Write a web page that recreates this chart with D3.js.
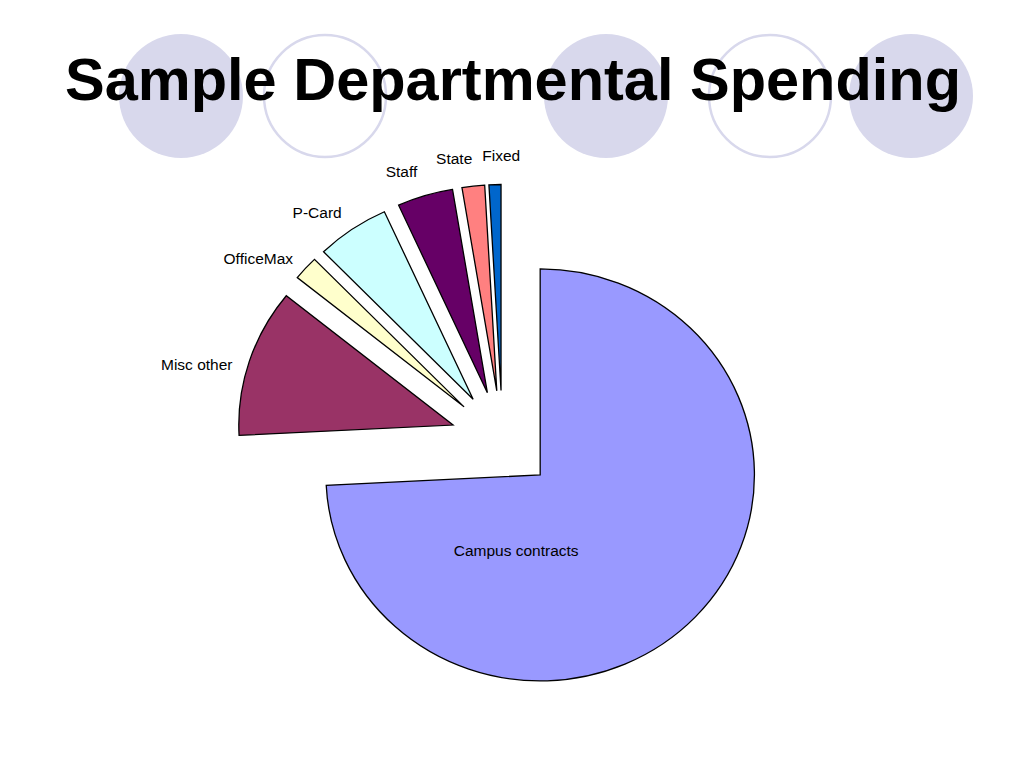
<!DOCTYPE html>
<html>
<head>
<meta charset="utf-8">
<script src="https://cdn.jsdelivr.net/npm/d3@7"></script>
<style>
  body { margin: 0; background: #fff; }
  text { font-family: "Liberation Sans", Arial, Helvetica, sans-serif; }
</style>
</head>
<body>
<script>
// chart data (share of spending, %)
var categories = ["Campus contracts", "Misc other", "OfficeMax", "P-Card", "Staff", "State", "Fixed"];
var values = [74.2, 11.6, 1.9, 5.5, 4.2, 1.7, 0.9];
var colors = ["#9999FF", "#993366", "#FFFFCC", "#CCFFFF", "#660066", "#FF8080", "#0066CC"];
var titleText = "Sample Departmental Spending";

var width = 1024;
var height = 768;
var svg = d3.select('body').append('svg');
svg.attr('width', width);
svg.attr('height', height);

// decorative circles behind the title
var deco = [
  {x: 181, fill: true}, {x: 325, fill: false}, {x: 606, fill: true},
  {x: 770, fill: false}, {x: 911, fill: true}
];
svg.selectAll("circle.deco")
  .data(deco)
  .enter()
  .append("circle")
  .attr("class", "deco")
  .attr("cx", function(d) { return d.x; })
  .attr("cy", 96)
  .attr("r", function(d) { return d.fill ? 62 : 61; })
  .attr("fill", function(d) { return d.fill ? "#d8d8ec" : "none"; })
  .attr("stroke", function(d) { return d.fill ? "none" : "#d8d8ec"; })
  .attr("stroke-width", 2.5);

svg.append("text")
  .attr("x", 513)
  .attr("y", 100)
  .attr("text-anchor", "middle")
  .attr("font-size", 59.5)
  .attr("font-weight", "bold")
  .attr("fill", "#000")
  .text(titleText);

var cx = 502.5, cy = 440.5; // pie centre
var sx = 1.04;              // pie is a bit wider than tall
var r = 206;
var explode = 50;

var pie = d3.pie().sort(null).value(function(d) { return d; });
var arcs = pie(values);
var arc = d3.arc().innerRadius(0).outerRadius(r);

var pieG = svg.append("g")
  .attr("transform", "translate(" + cx + "," + cy + ") scale(" + sx + ",1)");

function mid(d) { return (d.startAngle + d.endAngle) / 2; }

pieG.selectAll("path")
  .data(arcs)
  .enter()
  .append("path")
  .attr("d", arc)
  .attr("transform", function(d) {
    var a = mid(d);
    return "translate(" + (explode * Math.sin(a)) + "," + (-explode * Math.cos(a)) + ")";
  })
  .attr("fill", function(d, i) { return colors[i]; })
  .attr("stroke", "#000")
  .attr("stroke-width", 1.3)
  .attr("vector-effect", "non-scaling-stroke");

// labels
var labelR = 270;
var labelShift = -3 * Math.PI / 180;
var prevBox = null;
arcs.forEach(function(d, i) {
  var t = svg.append("text")
    .attr("font-size", 15.5)
    .attr("fill", "#000")
    .attr("text-anchor", "middle")
    .text(categories[i]);
  var w = t.node().getComputedTextLength();
  var lx, ly;
  if (i === 0) {
    // big slice: label sits inside
    var a0 = mid(d);
    var tipx = cx + sx * explode * Math.sin(a0), tipy = cy - explode * Math.cos(a0);
    var la = 197 * Math.PI / 180;
    lx = tipx + sx * 79 * Math.sin(la);
    ly = tipy - 79 * Math.cos(la);
  } else {
    var a = mid(d) + labelShift;
    lx = cx + sx * labelR * Math.sin(a) + Math.sin(a) * w / 2;
    ly = cy - labelR * Math.cos(a) - Math.cos(a) * 12 - 3;
    // push right if it runs into the previous label
    if (prevBox && lx - w / 2 < prevBox.right + 10 && Math.abs(ly - prevBox.y) < 16) {
      lx = prevBox.right + 10 + w / 2;
    }
    prevBox = {right: lx + w / 2, y: ly};
  }
  t.attr("x", lx).attr("y", ly + 5);
});
</script>
</body>
</html>
